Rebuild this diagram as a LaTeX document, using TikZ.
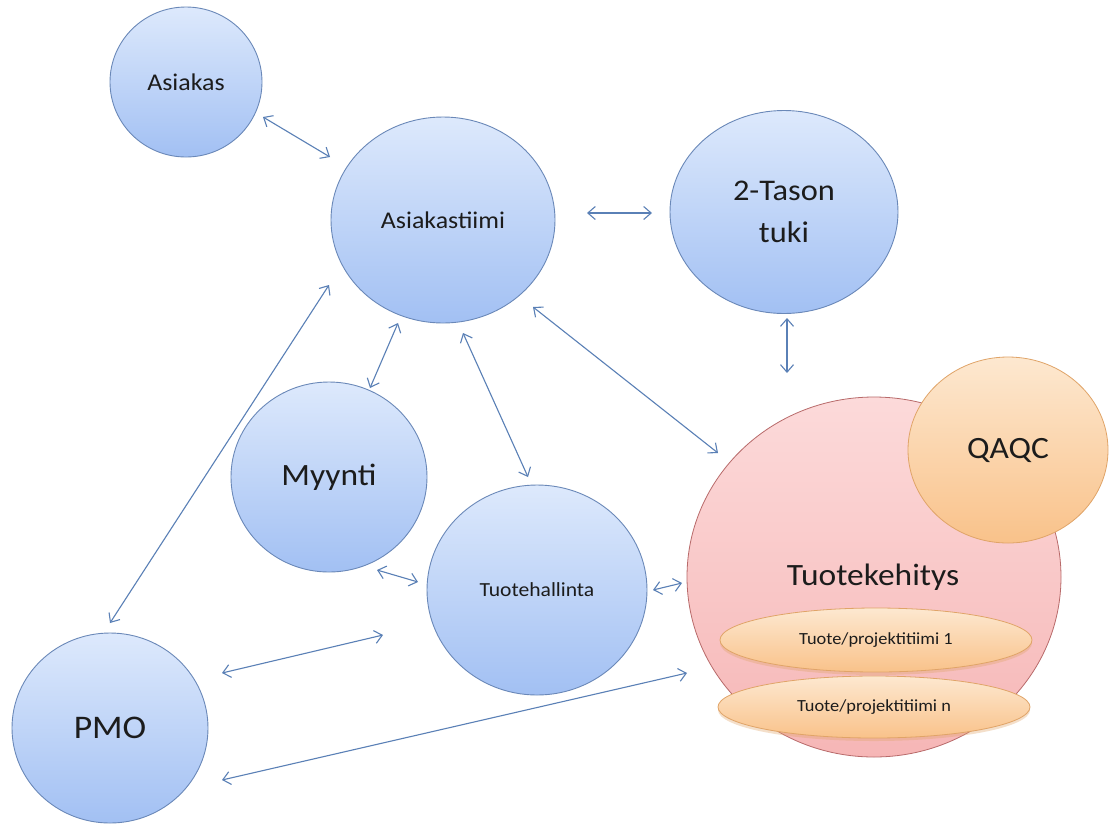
\documentclass[tikz,border=0pt]{standalone}
\usepackage{fontspec}
\setmainfont{Carlito}[FakeStretch=1.08]
\usetikzlibrary{arrows.meta,shapes.geometric,shadows}

\definecolor{bluetop}{HTML}{DDE9FC}
\definecolor{bluebot}{HTML}{A2C0F3}
\definecolor{blueline}{HTML}{6A88B8}
\definecolor{pinktop}{HTML}{FCDADA}
\definecolor{pinkbot}{HTML}{F6B6B6}
\definecolor{pinkline}{HTML}{B86A6A}
\definecolor{orangetop}{HTML}{FDE8D0}
\definecolor{orangebot}{HTML}{F9C28A}
\definecolor{orangeline}{HTML}{E0A468}
\definecolor{arrowblue}{HTML}{5A80B6}
\definecolor{textdark}{HTML}{1C1C1C}

\newcommand{\fsz}[1]{\fontsize{#1}{1.3\dimexpr#1pt\relax}\selectfont}

\tikzset{
  bubble/.style={ellipse, inner sep=0pt, draw=blueline, line width=0.9pt,
    top color=bluetop, bottom color=bluebot, text=textdark, align=center},
  devbubble/.style={ellipse, inner sep=0pt, draw=pinkline, line width=0.8pt,
    top color=pinktop, bottom color=pinkbot, text=textdark},
  orangebubble/.style={ellipse, inner sep=0pt, draw=orangeline, line width=0.8pt,
    top color=orangetop, bottom color=orangebot, text=textdark},
  teambubble/.style={orangebubble,
    drop shadow={shadow xshift=0pt, shadow yshift=-3pt, opacity=0.35, fill=orangeline}},
  link/.style={draw=arrowblue, line width=1.1pt,
    {Straight Barb[length=7.5pt,width=13pt]}-{Straight Barb[length=7.5pt,width=13pt]}},
}

\begin{document}
\begin{tikzpicture}[x=1pt, y=-1pt]
  \fill[white] (0,0) rectangle (1111,823);
  \useasboundingbox (0,0) rectangle (1111,823);

  % blue organisation units
  \node[bubble, minimum width=152pt, minimum height=150pt, font=\fsz{24}]
    (asiakas) at (186,82) {Asiakas};
  \node[bubble, minimum width=224pt, minimum height=206pt, font=\fsz{24}]
    (tiimi) at (443,220) {Asiakastiimi};
  \node[bubble, minimum width=228pt, minimum height=203pt, font=\fontsize{30}{42}\selectfont]
    (tuki) at (784,212) {2-Tason\\tuki};
  \node[bubble, minimum width=196pt, minimum height=190pt, font=\fsz{31}]
    (myynti) at (329,477) {Myynti};
  \node[bubble, minimum width=220pt, minimum height=210pt, font=\fsz{20}]
    (hallinta) at (537,590) {Tuotehallinta};
  \node[bubble, minimum width=196pt, minimum height=190pt, font=\fsz{33}]
    (pmo) at (110,728) {PMO};

  % product development with its teams
  \node[devbubble, minimum width=374pt, minimum height=360pt] (kehitys) at (874,577) {};
  \node[font=\fsz{31}, text=textdark] (kehityslabel) at (873,577) {Tuotekehitys};
  \node[orangebubble, minimum width=200pt, minimum height=186pt, font=\fsz{31}]
    (qaqc) at (1008,450) {QAQC};
  \node[teambubble, minimum width=312pt, minimum height=64pt, font=\fsz{17}]
    (team1) at (876,640) {Tuote/projektitiimi 1};
  \node[teambubble, minimum width=312pt, minimum height=62pt, font=\fsz{17}]
    (teamn) at (874,707) {Tuote/projektitiimi n};

  % connector end points
  \coordinate (a1s) at (263,117);  \coordinate (a1e) at (330,157);
  \coordinate (a2s) at (587,213);  \coordinate (a2e) at (652,213);
  \coordinate (a3s) at (787,318);  \coordinate (a3e) at (787,373);
  \coordinate (a4s) at (533,307);  \coordinate (a4e) at (718,453);
  \coordinate (a5s) at (398,323);  \coordinate (a5e) at (370,388);
  \coordinate (a6s) at (463,333);  \coordinate (a6e) at (528,477);
  \coordinate (a7s) at (329,285);  \coordinate (a7e) at (110,623);
  \coordinate (a8s) at (377,570);  \coordinate (a8e) at (418,582);
  \coordinate (a9s) at (653,590);  \coordinate (a9e) at (682,583);
  \coordinate (a10s) at (222,673); \coordinate (a10e) at (383,635);
  \coordinate (a11s) at (222,780); \coordinate (a11e) at (687,673);

  % two-way links
  \draw[link] (a1s) -- (a1e);
  \draw[link] (a2s) -- (a2e);
  \draw[link] (a3s) -- (a3e);
  \draw[link] (a4s) -- (a4e);
  \draw[link] (a5s) -- (a5e);
  \draw[link] (a6s) -- (a6e);
  \draw[link] (a7s) -- (a7e);
  \draw[link] (a8s) -- (a8e);
  \draw[link] (a9s) -- (a9e);
  \draw[link] (a10s) -- (a10e);
  \draw[link] (a11s) -- (a11e);
\end{tikzpicture}
\end{document}
